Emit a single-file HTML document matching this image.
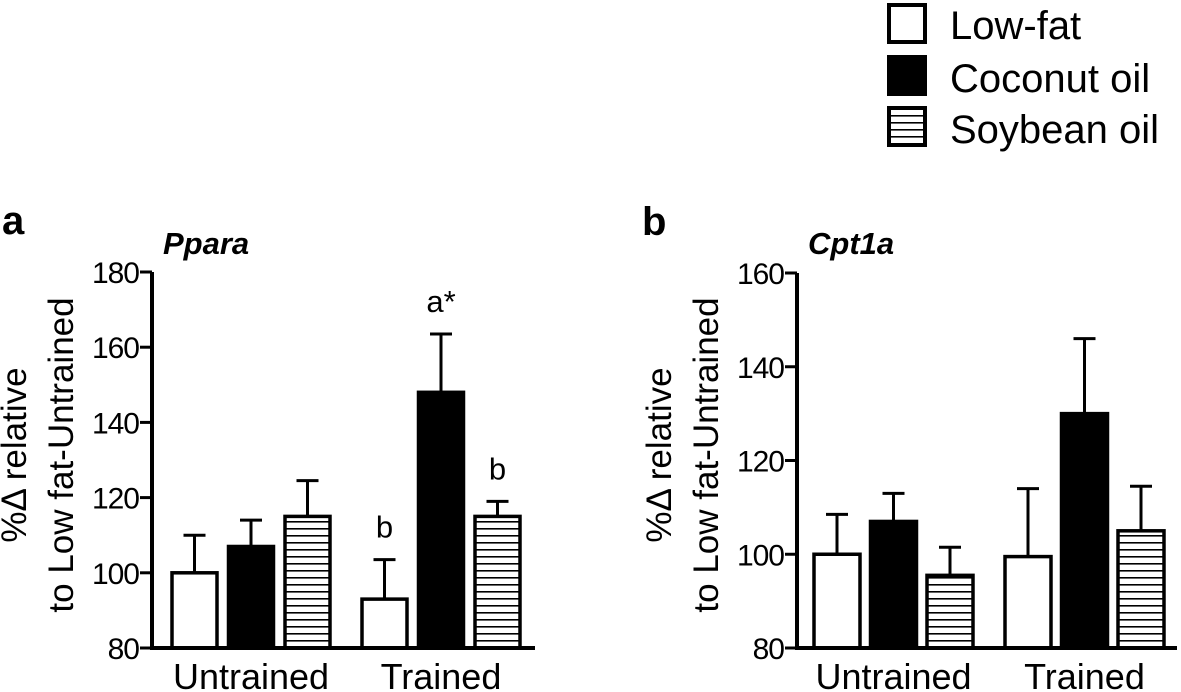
<!DOCTYPE html>
<html><head><meta charset="utf-8"><style>
body{margin:0;background:#fff;}
svg{display:block;font-family:"Liberation Sans",Arial,sans-serif;}
</style></head><body>
<svg id="fig" width="1181" height="692" viewBox="0 0 1181 692">
<defs>
<pattern id="stripes" patternUnits="userSpaceOnUse" width="8" height="7">
<rect width="8" height="7" fill="#fff"/>
<rect y="3" width="8" height="1.6" fill="#000"/>
</pattern>
</defs>
<g>
<rect x="889" y="5" width="36" height="37" fill="#fff" stroke="#000" stroke-width="4"/>
<text x="950" y="39" font-size="40">Low-fat</text>
<rect x="889" y="57" width="36" height="37" fill="#000" stroke="#000" stroke-width="4"/>
<text x="950" y="92" font-size="40">Coconut oil</text>
<rect x="889" y="108" width="36" height="37" fill="url(#stripes)" stroke="#000" stroke-width="4"/>
<text x="950" y="143" font-size="40">Soybean oil</text>
</g>
<text x="2" y="234" font-size="40" font-weight="bold">a</text>
<text x="642" y="235" font-size="40" font-weight="bold">b</text>
</svg>
<script>
const groups = ["Untrained", "Trained"];
const seriesNames = ["Low-fat", "Coconut oil", "Soybean oil"];
const pparaMeans = [[100, 107, 115], [93, 148, 115]];
const pparaErr = [[10, 7, 9.5], [10.5, 15.5, 4]];
const pparaLetters = [["", "", ""], ["b", "a*", "b"]];
const pparaTicks = [80, 100, 120, 140, 160, 180];
const cptMeans = [[100, 107, 95.5], [99.5, 130, 105]];
const cptErr = [[8.5, 6, 6], [14.5, 16, 9.5]];
const cptTicks = [80, 100, 120, 140, 160];

const NS = "http://www.w3.org/2000/svg";
const svg = document.getElementById("fig");
function mk(tag, attrs, parent){const e=document.createElementNS(NS,tag);for(const k in attrs)e.setAttribute(k,attrs[k]);(parent||svg).appendChild(e);return e;}
const fills=["#fff","#000","url(#stripes)"];

function drawPanel(cfg){
  const g=mk("g",{});
  
  
  const ymin=cfg.ticks[0], ymax=cfg.ticks[cfg.ticks.length-1];
  const y=v=>cfg.bottom-(v-ymin)/(ymax-ymin)*(cfg.bottom-cfg.top);
  const t=mk("text",{x:cfg.titleX,y:254,"font-size":31,"font-weight":"bold","font-style":"italic"},g);
  t.textContent=cfg.title;
  
  
  const l1=mk("text",{x:0,y:0,"font-size":35,"text-anchor":"middle",transform:`translate(${cfg.axisX-126},455) rotate(-90)`},g);
  l1.textContent="%\u0394 relative";
  
  
  const l2=mk("text",{x:0,y:0,"font-size":35,"text-anchor":"middle",transform:`translate(${cfg.axisX-79},455) rotate(-90)`},g);
  l2.textContent="to Low fat-Untrained";
  
  
  groups.forEach((gname,gi)=>{
    const gx=cfg.groupX[gi];
    cfg.means[gi].forEach((m,si)=>{
      const x0=gx+si*cfg.step;
      const xc=x0+cfg.barW/2;
      const top=y(cfg.means[gi][si]+cfg.err[gi][si]);
      const eb=mk("line",{x1:xc,x2:xc,y1:y(m),y2:top,stroke:"#000","stroke-width":3},g);
      
      
      const cap=mk("line",{x1:xc-11,x2:xc+11,y1:top,y2:top,stroke:"#000","stroke-width":3},g);
      
      
      const r=mk("rect",{x:x0,y:y(m),width:cfg.barW,height:cfg.bottom-y(m),fill:fills[si],stroke:"#000","stroke-width":3.5},g);
      
      
      if(cfg.letters && cfg.letters[gi][si]){
        const lt=mk("text",{x:xc,y:top-22,"font-size":31,"text-anchor":"middle"},g);
        lt.textContent=cfg.letters[gi][si];
        
        
      }
    });
    const cl=mk("text",{x:gx+cfg.step+cfg.barW/2,y:689,"font-size":36,"text-anchor":"middle"},g);
    cl.textContent=gname;
    
    
  });
  const ya=mk("line",{x1:cfg.axisX,x2:cfg.axisX,y1:cfg.top,y2:cfg.bottom+2,stroke:"#000","stroke-width":4},g);
  
  
  const xa=mk("line",{x1:cfg.axisX-2,x2:cfg.axisEnd,y1:cfg.bottom,y2:cfg.bottom,stroke:"#000","stroke-width":4},g);
  
  
  cfg.ticks.forEach(tv=>{
    const tk=mk("line",{x1:cfg.axisX-12,x2:cfg.axisX,y1:y(tv),y2:y(tv),stroke:"#000","stroke-width":3},g);
    
    
    const tl=mk("text",{x:cfg.axisX-13,y:y(tv)+11,"font-size":30,"text-anchor":"end","letter-spacing":"-1"},g);
    tl.textContent=tv;
    
    
  });
}
drawPanel({id:"ppara",title:"Ppara",titleX:163,axisX:152,axisEnd:535,top:272,bottom:648,ticks:pparaTicks,
  means:pparaMeans,err:pparaErr,letters:pparaLetters,groupX:[172,362],step:56.5,barW:45});
drawPanel({id:"cpt1a",title:"Cpt1a",titleX:808,axisX:797,axisEnd:1177,top:273,bottom:648,ticks:cptTicks,
  means:cptMeans,err:cptErr,letters:null,groupX:[814,1005],step:56.5,barW:46});
</script>
</body></html>
